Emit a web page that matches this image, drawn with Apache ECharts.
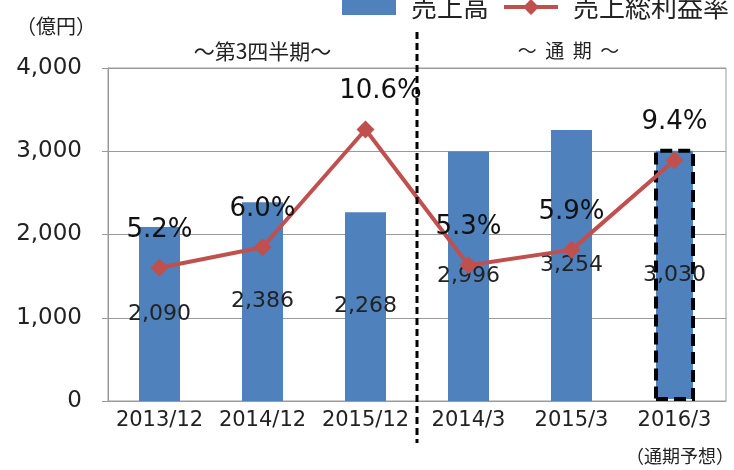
<!DOCTYPE html>
<html>
<head>
<meta charset="utf-8">
<script src="https://cdn.jsdelivr.net/npm/echarts@6/dist/echarts.min.js"></script>
<style>
  html, body { margin: 0; padding: 0; background: #fff; }
  #chart { width: 734px; height: 470px; }
</style>
</head>
<body>
<div id="chart"></div>
<script>
// 期間（第3四半期 ×3、通期 ×3）
const periods = ['2013/12', '2014/12', '2015/12', '2014/3', '2015/3', '2016/3']
// 売上高（億円）
const sales = [2090, 2386, 2268, 2996, 3254, 3030]
// 売上総利益率（%）
const grossMargin = [5.2, 6.0, 10.6, 5.3, 5.9, 9.4]
// 左軸の目盛
const yMin = 0
const yMax = 4000
const yStep = 1000
// 通期予想の棒
const forecastIndex = 5

const numFont = 'DejaVu Sans'
const jpFont = 'Noto Sans CJK JP'

// 凡例の線＋ひし形アイコン
const lineIcon = 'path://M0,6 L21,6 L27,0 L33,6 L54,6 L54,10 L33,10 L27,16 L21,10 L0,10 Z'

const chart = echarts.init(document.getElementById('chart'))

const option = {
  animation: false,
  legend: {
    data: [
      { name: '売上高', icon: 'rect' },
      { name: '売上総利益率', icon: lineIcon }
    ],
    orient: 'horizontal',
    left: 342,
    top: -6,
    width: 392,
    padding: 0,
    itemWidth: 54,
    itemHeight: 16,
    itemGap: 15,
    textStyle: {
      fontFamily: jpFont,
      fontSize: 26,
      color: '#222',
      padding: [0, 0, 0, 10]
    }
  },
  grid: {
    left: 108,
    right: 8,
    top: 68,
    bottom: 69,
    show: true,
    borderColor: '#9a9a9a',
    borderWidth: 1,
    outerBoundsMode: 'none'
  },
  xAxis: {
    type: 'category',
    data: periods,
    axisLine: { lineStyle: { color: '#9a9a9a', width: 1 } },
    axisTick: { length: 5, lineStyle: { color: '#9a9a9a' } },
    axisLabel: {
      interval: 0,
      fontFamily: numFont,
      fontSize: 21,
      color: '#222',
      margin: 9
    }
  },
  yAxis: [
    {
      type: 'value',
      min: yMin,
      max: yMax,
      interval: yStep,
      axisLine: { show: true, lineStyle: { color: '#9a9a9a' } },
      axisTick: { show: true, length: 6, lineStyle: { color: '#9a9a9a' } },
      splitLine: { lineStyle: { color: '#9a9a9a', width: 1 } },
      axisLabel: {
        fontFamily: numFont,
        fontSize: 23,
        color: '#222',
        margin: 26,
        formatter: (v) => v.toLocaleString('en-US')
      }
    },
    {
      type: 'value',
      min: 0,
      max: 13,
      show: false,
      splitLine: { show: false }
    }
  ],
  series: [
    {
      name: '売上高',
      type: 'bar',
      barWidth: 41,
      itemStyle: { color: '#4f81bd' },
      data: sales.map((v, i) => i === forecastIndex
        ? { value: v, itemStyle: { borderColor: '#000', borderWidth: 4, borderType: [12, 6] } }
        : v),
      label: {
        show: true,
        position: 'inside',
        fontFamily: numFont,
        fontSize: 22,
        color: '#222',
        formatter: (p) => p.value.toLocaleString('en-US')
      },
      z: 2
    },
    {
      name: '売上総利益率',
      type: 'line',
      yAxisIndex: 1,
      symbol: 'diamond',
      symbolSize: 18,
      lineStyle: { color: '#c0504d', width: 4 },
      itemStyle: { color: '#c0504d' },
      data: grossMargin.map((v, i) => i === 2 ? { value: v, label: { offset: [15, 0] } } : v),
      label: {
        show: true,
        position: 'top',
        distance: 16,
        fontFamily: numFont,
        fontSize: 26,
        color: '#111',
        formatter: (p) => p.value.toFixed(1) + '%'
      },
      z: 5
    }
  ]
}

chart.setOption(option)

// 第3四半期と通期の境目（破線）と注記
const xa = chart.convertToPixel({ xAxisIndex: 0 }, periods[2])
const xb = chart.convertToPixel({ xAxisIndex: 0 }, periods[3])
const xSplit = (xa + xb) / 2
const xLeftMid = chart.convertToPixel({ xAxisIndex: 0 }, periods[1])
const xRightMid = chart.convertToPixel({ xAxisIndex: 0 }, periods[4])

chart.setOption({
  graphic: [
    {
      type: 'line',
      shape: { x1: xSplit, y1: 32, x2: xSplit, y2: 443 },
      style: { stroke: '#000', lineWidth: 3, lineDash: [7, 4] },
      z: 10
    },
    {
      type: 'text',
      left: 16,
      top: 16,
      style: { text: '（億円）', fontFamily: jpFont, fontSize: 20, fill: '#222' }
    },
    {
      type: 'text',
      x: xLeftMid,
      y: 51,
      style: { text: '〜第3四半期〜', fontFamily: jpFont, fontSize: 21, fill: '#222', align: 'center', verticalAlign: 'middle' }
    },
    {
      type: 'text',
      x: xRightMid - 3,
      y: 51,
      style: { text: '〜  通  期  〜', fontFamily: jpFont, fontSize: 19, fill: '#222', align: 'center', verticalAlign: 'middle' }
    },
    {
      type: 'text',
      right: 0,
      top: 447,
      style: { text: '（通期予想）', fontFamily: jpFont, fontSize: 18, fill: '#222' }
    }
  ]
})
</script>
</body>
</html>
